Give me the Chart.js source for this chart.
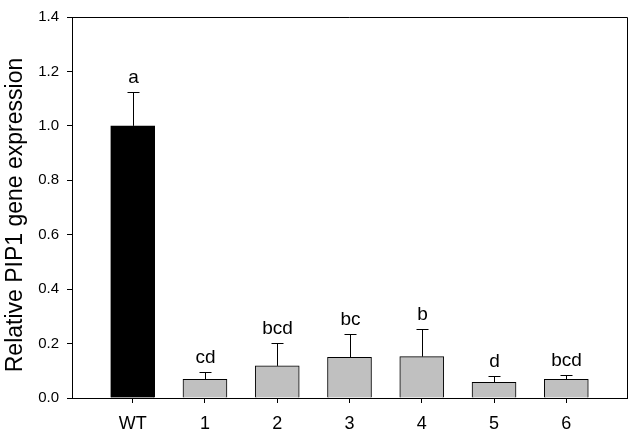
<!DOCTYPE html>
<html>
<head>
<meta charset="utf-8">
<script src="https://cdn.jsdelivr.net/npm/chart.js@4"></script>
<style>
  html, body { margin: 0; padding: 0; background: #fff; }
  #wrap { width: 630px; height: 434px; }
</style>
</head>
<body>
<div id="wrap"><canvas id="chart"></canvas></div>
<script>
const labels = ['WT', '1', '2', '3', '4', '5', '6'];
const values = [1.0, 0.069, 0.118, 0.149, 0.152, 0.058, 0.069];
const errors = [0.123, 0.026, 0.083, 0.086, 0.101, 0.023, 0.015];
const letters = ['a', 'cd', 'bcd', 'bc', 'b', 'd', 'bcd'];
const barColors = ['#000000', '#c0c0c0', '#c0c0c0', '#c0c0c0', '#c0c0c0', '#c0c0c0', '#c0c0c0'];
const yTitle = 'Relative PIP1 gene expression';

const FONT = '"Liberation Sans", Arial, sans-serif';

// error bars, letters, frame and y title
const extras = {
  id: 'extras',
  afterDatasetsDraw(chart) {
    const { ctx, chartArea: a, scales: { x, y } } = chart;
    ctx.save();
    ctx.strokeStyle = '#000';
    ctx.lineWidth = 1;
    values.forEach((v, i) => {
      const px = Math.round(x.getPixelForValue(i)) + 0.5;
      const y0 = y.getPixelForValue(v);
      const y1 = Math.round(y.getPixelForValue(v + errors[i])) + 0.5;
      ctx.beginPath();
      ctx.moveTo(px, y0);
      ctx.lineTo(px, y1);
      ctx.moveTo(px - 6, y1);
      ctx.lineTo(px + 6, y1);
      ctx.stroke();
      ctx.fillStyle = '#000';
      ctx.font = '19px ' + FONT;
      ctx.textAlign = 'center';
      ctx.textBaseline = 'alphabetic';
      ctx.fillText(letters[i], px, y1 - 10);
    });
    // top and right frame
    ctx.beginPath();
    ctx.moveTo(a.left, a.top + 0.5);
    ctx.lineTo(a.right + 0.5, a.top + 0.5);
    ctx.lineTo(a.right + 0.5, a.bottom);
    ctx.stroke();
    // y title
    ctx.translate(16, 215);
    ctx.rotate(-Math.PI / 2);
    ctx.font = '23px ' + FONT;
    ctx.textAlign = 'center';
    ctx.textBaseline = 'middle';
    ctx.fillText(yTitle, 0, 0);
    ctx.restore();
  }
};

new Chart(document.getElementById('chart'), {
  type: 'bar',
  data: {
    datasets: [{
      data: values.map((v, i) => ({ x: i, y: v })),
      backgroundColor: barColors,
      borderColor: '#000',
      borderWidth: 1,
      barThickness: 44
    }]
  },
  options: {
    responsive: true,
    maintainAspectRatio: false,
    animation: false,
    layout: { padding: { top: 11, right: 3, left: 0, bottom: 0 } },
    plugins: { legend: { display: false }, tooltip: { enabled: false } },
    scales: {
      x: {
        type: 'linear',
        min: -0.84,
        max: 6.84,
        offset: false,
        afterBuildTicks: s => { s.ticks = labels.map((_, i) => ({ value: i })); },
        afterFit: s => { s.height = 36; },
        ticks: {
          callback: v => labels[v],
          color: '#000',
          font: { family: FONT, size: 18 },
          padding: 10,
          maxRotation: 0
        },
        grid: { offset: false, drawOnChartArea: false, drawTicks: true, tickLength: 5, color: '#000' },
        border: { display: true, color: '#000', width: 1 }
      },
      y: {
        min: 0,
        max: 1.4,
        afterFit: s => { s.width = 72; },
        ticks: {
          stepSize: 0.2,
          callback: v => v.toFixed(1),
          color: '#000',
          font: { family: FONT, size: 15 },
          padding: 8
        },
        grid: { drawOnChartArea: false, drawTicks: true, tickLength: 5, color: '#000' },
        border: { display: true, color: '#000', width: 1 }
      }
    }
  },
  plugins: [extras]
});
</script>
</body>
</html>
